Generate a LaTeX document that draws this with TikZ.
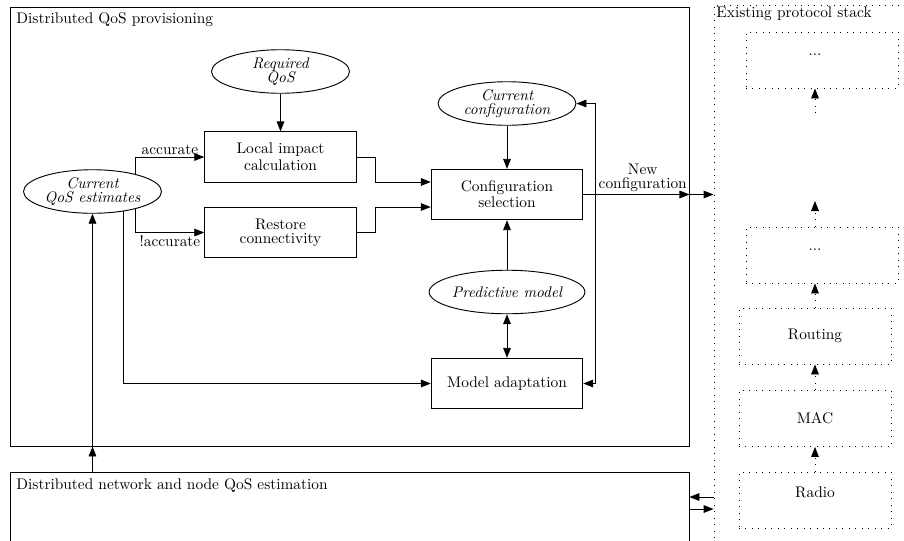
\documentclass[tikz,border=0pt]{standalone}
\usetikzlibrary{arrows.meta,shapes.geometric,calc}
\begin{document}
\begin{tikzpicture}[x=0.65pt,y=-0.65pt, line width=0.6pt,
  arr/.style={-{Triangle[length=6.5pt,width=5pt]}},
  arrb/.style={{Triangle[length=6.5pt,width=5pt]}-{Triangle[length=6.5pt,width=5pt]}},
  darr/.style={-{Triangle[length=6.5pt,width=5pt]}, dash pattern=on 0.6pt off 3.6pt},
  box/.style={draw, rectangle, minimum width=98.5pt, minimum height=32.8pt, inner sep=0pt, align=center},
  oval/.style={draw, ellipse, minimum width=89.7pt, minimum height=28.3pt, inner sep=0pt, align=center, font=\itshape},
  sbox/.style={draw, rectangle, dash pattern=on 0.6pt off 3.6pt, minimum width=98.8pt, minimum height=36.4pt, inner sep=0pt},
  frame/.style={draw, rectangle, inner sep=0pt},
  title/.style={anchor=west, inner sep=0pt},
  lbl/.style={inner sep=1.5pt, align=center}]
\useasboundingbox (0,0) rectangle (904,540);

% containers
\node[frame, minimum width=441.35pt, minimum height=285.35pt] (prov) at (349.5,226.5) {};
\node[frame, minimum width=441.35pt, minimum height=57.2pt] (est) at (349.5,516) {};
\node[frame, dash pattern=on 0.6pt off 3.6pt, minimum width=133.9pt, minimum height=360.75pt] (stack) at (817,282.5) {};
\node[title] (provt) at (16,20) {Distributed QoS provisioning};
\node[title] (estt) at (16,486) {Distributed network and node QoS estimation};
\node[title] (stackt) at (716,14) {Existing protocol stack};

% ellipses
\node[oval] (req) at (280.5,71.5) {Required\\[-2.5pt]QoS};
\node[oval] (cqe) at (92.5,191.5) {Current\\[-3pt]QoS estimates};
\node[oval] (curc) at (507,103.5) {Current\\[-3pt]configuration};
\node[oval] (pred) at (507,292) {Predictive model};

% boxes
\node[box] (local) at (280.5,157) {Local impact\\[-1pt]calculation};
\node[box] (restore) at (280.5,232.5) {Restore\\[-3pt]connectivity};
\node[box] (config) at (507,194.5) {Configuration\\[-1.5pt]selection};
\node[box] (model) at (507,383.5) {Model adaptation};

% protocol stack
\node[sbox] (dots1) at (822,60) {};
\node (dots1t) at (815,55) {...};
\node[sbox] (dots2) at (822,255) {};
\node (dots2t) at (815,250) {...};
\node[sbox] (routing) at (815,336) {Routing};
\node[sbox] (mac) at (815,418.5) {MAC};
\node[sbox] (radio) at (815,500) {};
\node (radiot) at (815,492) {Radio};

% edges
\draw[arr] (req) -- (local);
\draw[arr] (cqe.22) |- (local.west) node[lbl, above, pos=0.75] (acc) {accurate};
\draw[arr] (cqe.-22) |- (restore.west) node[lbl, below, pos=0.75] (nacc) {!accurate};
\draw[arr] (local.east) -- ++(19,0) |- ($(config.west)+(0,-12.5)$);
\draw[arr] (restore.east) -- ++(19,0) |- ($(config.west)+(0,12.5)$);
\draw[arr] (curc) -- (config);
\draw[arr] (pred) -- (config);
\draw[arrb] (pred) -- (model);
\draw[arr] (config.east) -- (config.east -| prov.east) node[lbl, above, pos=0.56] (newc) {New\\[-3pt]configuration};
\draw[arr] (config.east -| prov.east) -- (config.east -| stack.west);
\coordinate (fb) at ($(config.east)+(12,0)$);
\draw[arr] (fb) |- (curc.east);
\draw[arr] (fb) |- (model.east);
\draw[arr] (cqe.-33) |- (model.west);
\draw[arr] (est.north -| cqe.south) -- (prov.south -| cqe.south);
\draw[arr] (prov.south -| cqe.south) -- (cqe.south);

\coordinate (r1) at (700,497);
\coordinate (r2) at (700,509);
\draw[arr] (stack.west |- r1) -- (est.east |- r1);
\draw[arr] (est.east |- r2) -- (stack.west |- r2);

\coordinate (g1) at (815,201);
\coordinate (g2) at (815,113);
\draw[darr] (radio.north) -- (mac.south);
\draw[darr] (mac.north) -- (routing.south);
\draw[darr] (routing.north) -- (routing.north |- dots2.south);
\draw[darr] (routing.north |- dots2.north) -- (g1);
\draw[darr] (g2) -- (routing.north |- dots1.south);
\end{tikzpicture}
\end{document}
